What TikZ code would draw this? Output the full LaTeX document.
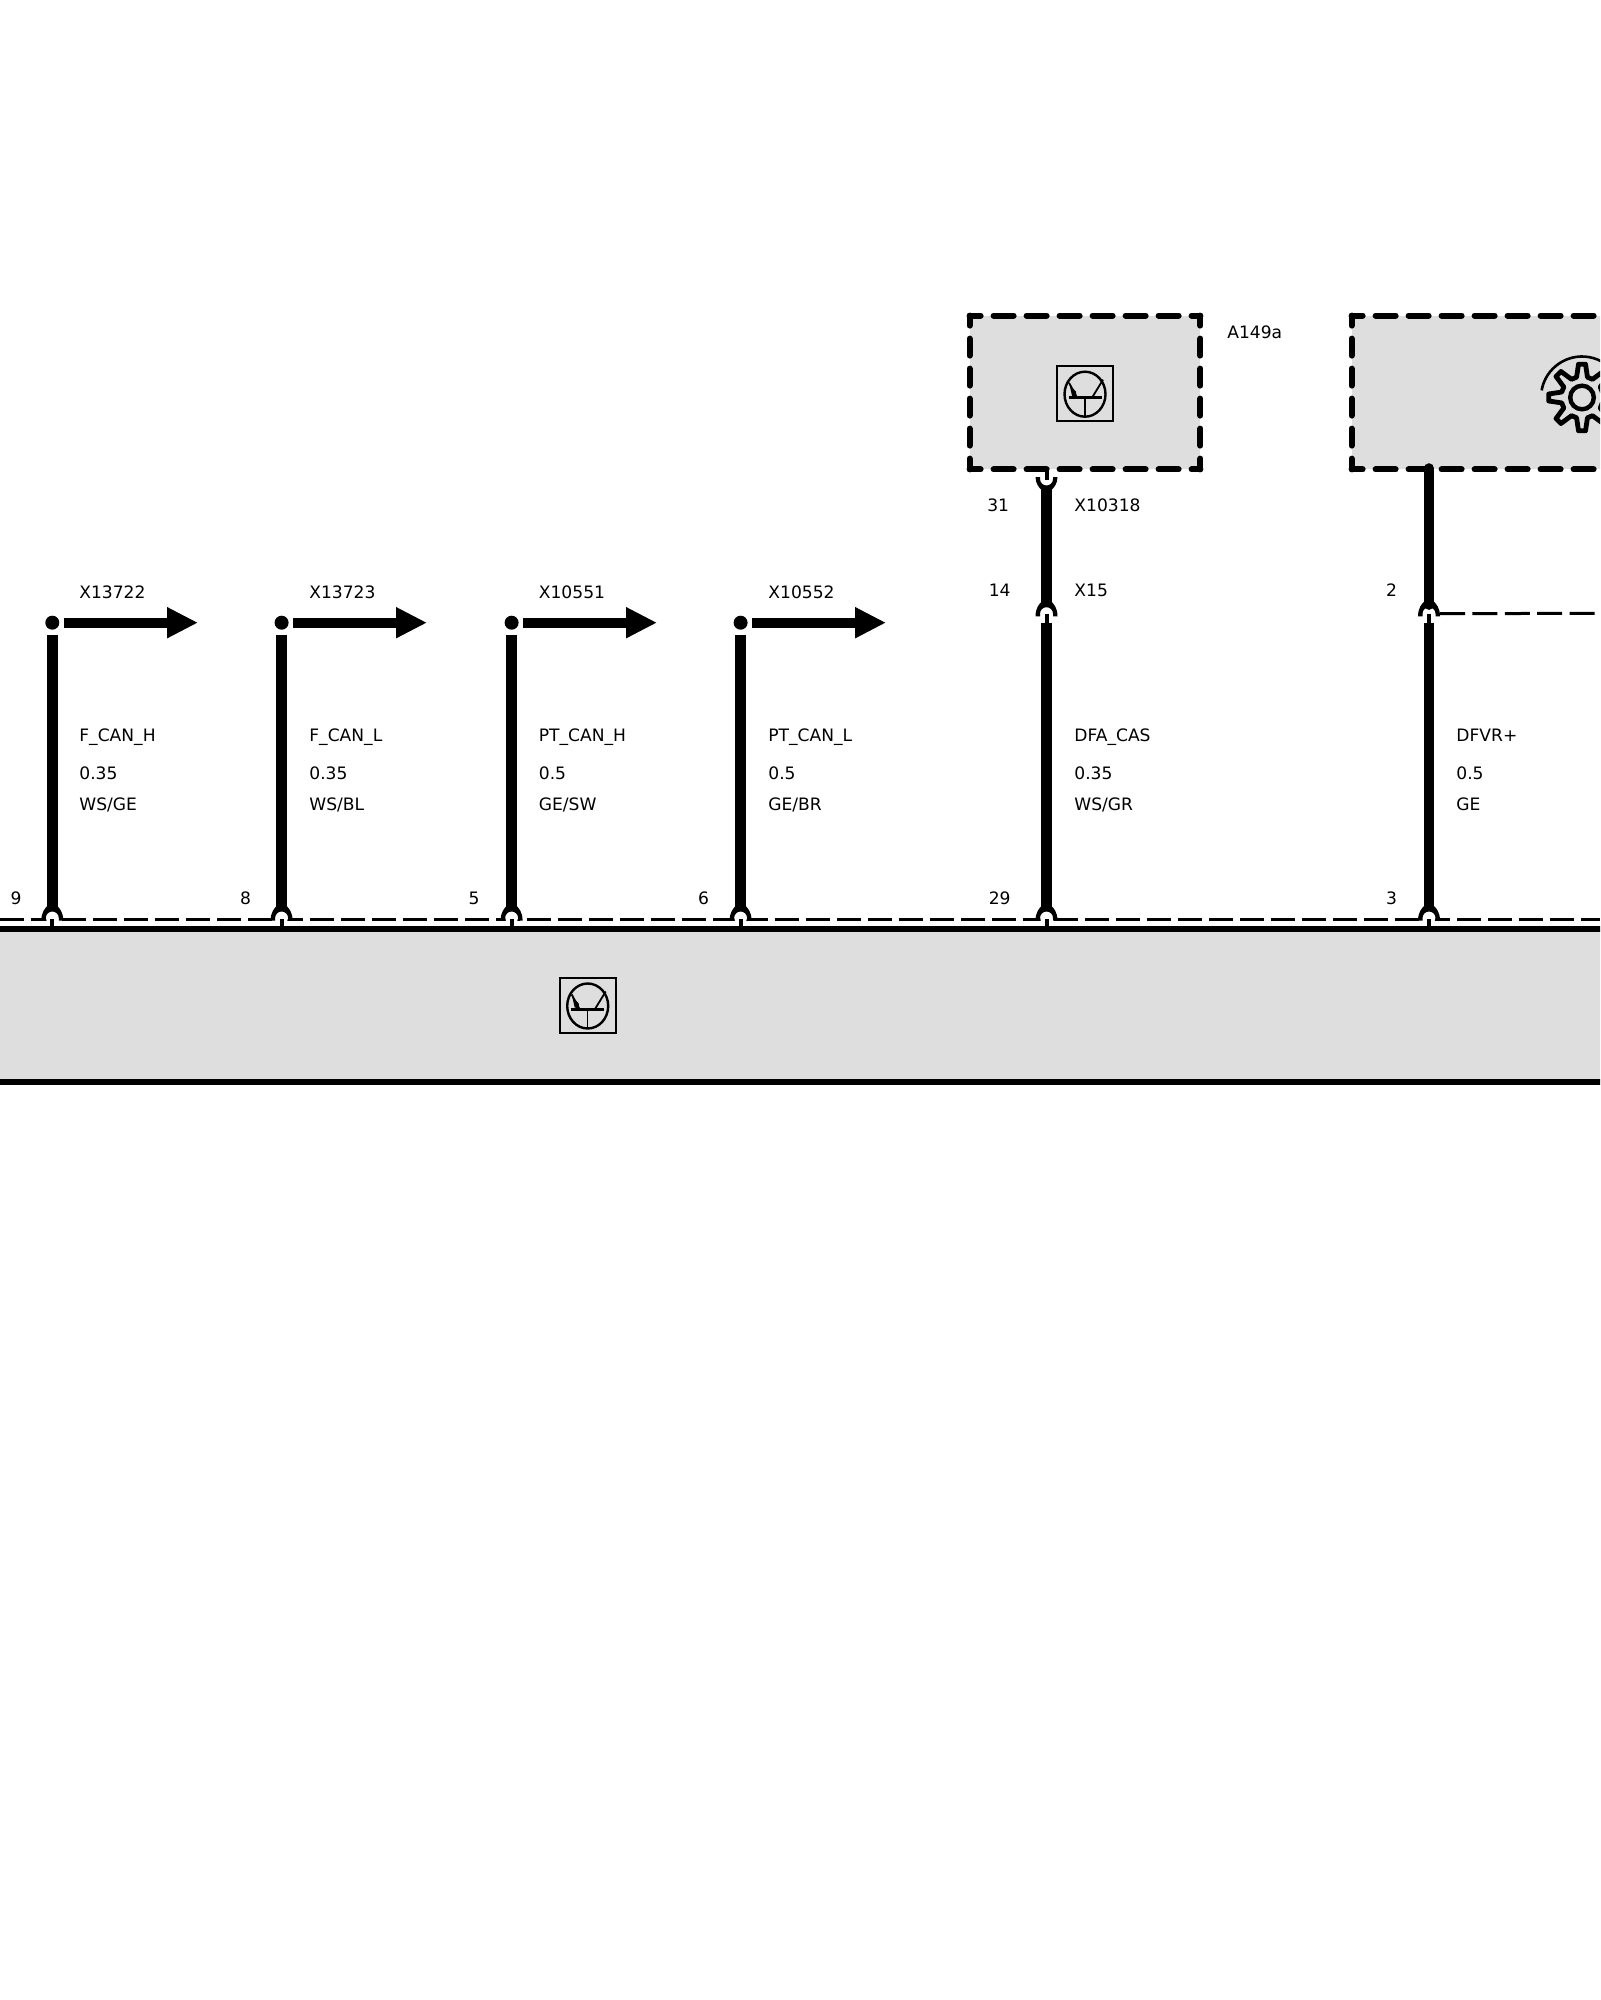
\documentclass[tikz,border=0pt]{standalone}
\usepackage{fontspec}
\setmainfont{DejaVu Sans}
\usetikzlibrary{arrows.meta}
\usetikzlibrary{calc}
\usetikzlibrary{positioning}
\definecolor{mygrey}{HTML}{DEDEDE}
\tikzstyle{lbl} = [anchor=base west, inner sep=0pt, font={\fontsize{8.55pt}{10pt}\selectfont}]
\tikzstyle{pinlbl} = [lbl, anchor=base east]
\tikzstyle{wire} = [draw, line width=5.2pt]
\tikzstyle{stub} = [draw, line width=2pt]
\tikzstyle{lead} = [wire, -{Triangle[length=15.5pt,width=14.5pt]}]
\tikzstyle{pindot} = [circle, fill=black, inner sep=0pt, minimum size=7pt]
\tikzstyle{shield} = [draw, line width=1.6pt, dash pattern=on 12pt off 3.5pt]
\tikzstyle{unit} = [fill=mygrey, inner sep=0pt, minimum height=76.5pt]
\tikzstyle{hedge} = [draw, line width=3pt, line cap=round, dash pattern=on 10pt off 6.5pt, dash phase=4.5pt]
\tikzstyle{vedge} = [draw, line width=3pt, line cap=round, dash pattern=on 8.5pt off 6.5pt, dash phase=3.5pt]
\tikzset{
  pics/arch/.style={code={
    \fill[white] (0,0) circle (6.3);
    \fill (-5,-12) .. controls (-7,-10) and (-11,-6) .. (-11,2.7) -- (-6.5,2.7) -- (-6.5,0)
      arc[start angle=180, end angle=360, radius=6.5] -- (6.5,2.7) -- (11,2.7)
      .. controls (11,-6) and (7,-10) .. (5,-12) -- cycle;
  }},
  pics/cup/.style={code={
    \fill (-5,11) .. controls (-7,9) and (-11,5) .. (-11,-2) -- (-6.5,-2) -- (-6.5,0)
      arc[start angle=180, end angle=0, radius=6.5] -- (6.5,-2) -- (11,-2)
      .. controls (11,5) and (7,9) .. (5,11) -- cycle;
  }},
  pics/transistor/.style={code={
    \draw[line width=1.2pt] (-28,-27.5) rectangle (28,27.5);
    \draw[line width=1.2pt] (0,0.5) ellipse (20.5 and 22.5);
    \draw[line width=1.2pt] (-16.5,4) -- (16.5,4);
    \draw[line width=0.7pt] (0,4) -- (0,23);
    \draw[line width=0.9pt] (7,4) -- (18,-14);
    \draw[line width=0.9pt] (-8,4) -- (-16,-11);
    \fill (-15.5,-9) -- (-9,-2) -- (-8.5,3) -- (-13,2) -- cycle;
  }},
  pics/gear/.style={code={
    \draw[line width=2.4pt, line join=round] ({-15}:21)
      \foreach \a in {0,45,...,315} { -- ({\a-15}:21) -- ({\a-6}:33.5) -- ({\a+6}:33.5) -- ({\a+15}:21) } -- cycle;
    \draw[line width=2.2pt] (0,0) circle (11.8);
    \draw[line width=1.3pt] (190:41) arc[start angle=190, end angle=330, radius=41];
  }}
}

\begin{document}
\begin{tikzpicture}[x=0.5pt, y=-0.5pt]
  \useasboundingbox (0,0) rectangle (1600,2000);
  \clip (0,0) rectangle (1600,2000);

  % units
  \node[unit, minimum width=230*0.5pt] (a149) at (1085,392.5) {};
  \node[unit, minimum width=400*0.5pt] (gearbox) at (1552,392.5) {};
  \node[unit, draw=black, line width=3pt, minimum width=1640*0.5pt] (ecu) at (800,1005.5) {};
  \draw[hedge] (a149.north west) -- (a149.north east);
  \draw[hedge] (a149.south west) -- (a149.south east);
  \draw[vedge] (a149.north west) -- (a149.south west);
  \draw[vedge] (a149.north east) -- (a149.south east);
  \draw[hedge] (gearbox.north west) -- (gearbox.north east);
  \draw[hedge] (gearbox.south west) -- (gearbox.south east);
  \draw[vedge] (gearbox.north west) -- (gearbox.south west);
  \pic at (1085,393.7) {transistor};
  \pic at (587.7,1005.5) {transistor};
  \pic at (1582,397.5) {gear};
  \node[lbl] (a149lbl) at (1227,339) {A149a};

  % shield along the control unit
  \coordinate (shieldl) at (0,919.3);
  \coordinate (shieldr) at (1600,919.3);
  \draw[shield] (shieldl) -- (shieldr);

  % arrow leads
  \node[pindot] (dot1) at (52.3,622.7) {};
  \node[pindot] (dot2) at (281.6,622.7) {};
  \node[pindot] (dot3) at (511.6,622.7) {};
  \node[pindot] (dot4) at (740.6,622.7) {};
  \coordinate (end1) at (198,622.7);
  \coordinate (end2) at (427,622.7);
  \coordinate (end3) at (657,622.7);
  \coordinate (end4) at (886,622.7);
  \draw[lead] ([xshift=2pt]dot1.east) -- (end1);
  \draw[lead] ([xshift=2pt]dot2.east) -- (end2);
  \draw[lead] ([xshift=2pt]dot3.east) -- (end3);
  \draw[lead] ([xshift=2pt]dot4.east) -- (end4);

  % forks on the shield line
  \coordinate (fork1) at (52.3,918);
  \coordinate (fork2) at (281.6,918);
  \coordinate (fork3) at (511.6,918);
  \coordinate (fork4) at (740.6,918);
  \coordinate (fork5) at (1046.5,918);
  \coordinate (fork6) at (1429,918);
  \pic at (fork1) {arch};
  \pic at (fork2) {arch};
  \pic at (fork3) {arch};
  \pic at (fork4) {arch};
  \pic at (fork5) {arch};
  \pic at (fork6) {arch};
  \draw[stub] ([yshift=-0.5pt]fork1) -- (fork1 |- ecu.north);
  \draw[stub] ([yshift=-0.5pt]fork2) -- (fork2 |- ecu.north);
  \draw[stub] ([yshift=-0.5pt]fork3) -- (fork3 |- ecu.north);
  \draw[stub] ([yshift=-0.5pt]fork4) -- (fork4 |- ecu.north);
  \draw[stub] ([yshift=-0.5pt]fork5) -- (fork5 |- ecu.north);
  \draw[stub] ([yshift=-0.5pt]fork6) -- (fork6 |- ecu.north);

  % wires
  \draw[wire] ([yshift=-2.4pt]dot1.south) -- ([yshift=4.5pt]fork1);
  \draw[wire] ([yshift=-2.4pt]dot2.south) -- ([yshift=4.5pt]fork2);
  \draw[wire] ([yshift=-2.4pt]dot3.south) -- ([yshift=4.5pt]fork3);
  \draw[wire] ([yshift=-2.4pt]dot4.south) -- ([yshift=4.5pt]fork4);

  % X15 connector
  \coordinate (cup5) at (1046.5,479);
  \coordinate (join5) at (1046.5,613.7);
  \coordinate (join6) at (1429,613.7);
  \pic at (cup5) {cup};
  \pic at (join5) {arch};
  \pic at (join6) {arch};
  \draw[stub] (a149.south -| cup5) -- ([yshift=-0.5pt]cup5);
  \draw[wire] ([yshift=-4.5pt]cup5) -- ([yshift=4.5pt]join5);
  \draw[stub] (join5) -- ([yshift=-5pt]join5);
  \draw[wire] ([yshift=-4.6pt]join5) -- ([yshift=4.5pt]fork5);
  \draw[wire, line cap=round] ($(gearbox.south -| join6)+(0,-1)$) -- ([yshift=4.5pt]join6);
  \draw[stub] (join6) -- ([yshift=-5pt]join6);
  \draw[wire] ([yshift=-4.6pt]join6) -- ([yshift=4.5pt]fork6);
  \coordinate (joinr) at (1600,613.3);
  \draw[draw, line width=1.5pt, dash pattern=on 12.5pt off 3.7pt] ([xshift=5.5pt]join6) -- (joinr);

  % connector names
  \node[lbl] (x1) at (79,598.3) {X13722};
  \node[lbl] (x2) at (309,598.3) {X13723};
  \node[lbl] (x3) at (538.5,598.3) {X10551};
  \node[lbl] (x4) at (768,598.3) {X10552};
  \node[lbl] (x5) at (1074,511.7) {X10318};
  \node[lbl] (x6) at (1074,596.7) {X15};
  \node[pinlbl] (p31) at (1009.5,511.7) {31};
  \node[pinlbl] (p14) at (1011,596.7) {14};
  \node[pinlbl] (p2) at (1397.5,596.7) {2};

  % pins on the control unit
  \node[pinlbl] (p9) at (22,904) {9};
  \node[pinlbl] (p8) at (251.5,904) {8};
  \node[pinlbl] (p5) at (480,904) {5};
  \node[pinlbl] (p6) at (709.5,904) {6};
  \node[pinlbl] (p29) at (1011,904) {29};
  \node[pinlbl] (p3) at (1397.5,904) {3};

  % signal, size, colour
  \node[lbl] (sig1) at (79,741) {F\_CAN\_H};
  \node[lbl] (size1) at (79,779.3) {0.35};
  \node[lbl] (col1) at (79,810) {WS/GE};
  \node[lbl] (sig2) at (309,741) {F\_CAN\_L};
  \node[lbl] (size2) at (309,779.3) {0.35};
  \node[lbl] (col2) at (309,810) {WS/BL};
  \node[lbl] (sig3) at (538.5,741) {PT\_CAN\_H};
  \node[lbl] (size3) at (538.5,779.3) {0.5};
  \node[lbl] (col3) at (538.5,810) {GE/SW};
  \node[lbl] (sig4) at (768,741) {PT\_CAN\_L};
  \node[lbl] (size4) at (768,779.3) {0.5};
  \node[lbl] (col4) at (768,810) {GE/BR};
  \node[lbl] (sig5) at (1074,741) {DFA\_CAS};
  \node[lbl] (size5) at (1074,779.3) {0.35};
  \node[lbl] (col5) at (1074,810) {WS/GR};
  \node[lbl] (sig6) at (1456,741) {DFVR+};
  \node[lbl] (size6) at (1456,779.3) {0.5};
  \node[lbl] (col6) at (1456,810) {GE};
\end{tikzpicture}
\end{document}
